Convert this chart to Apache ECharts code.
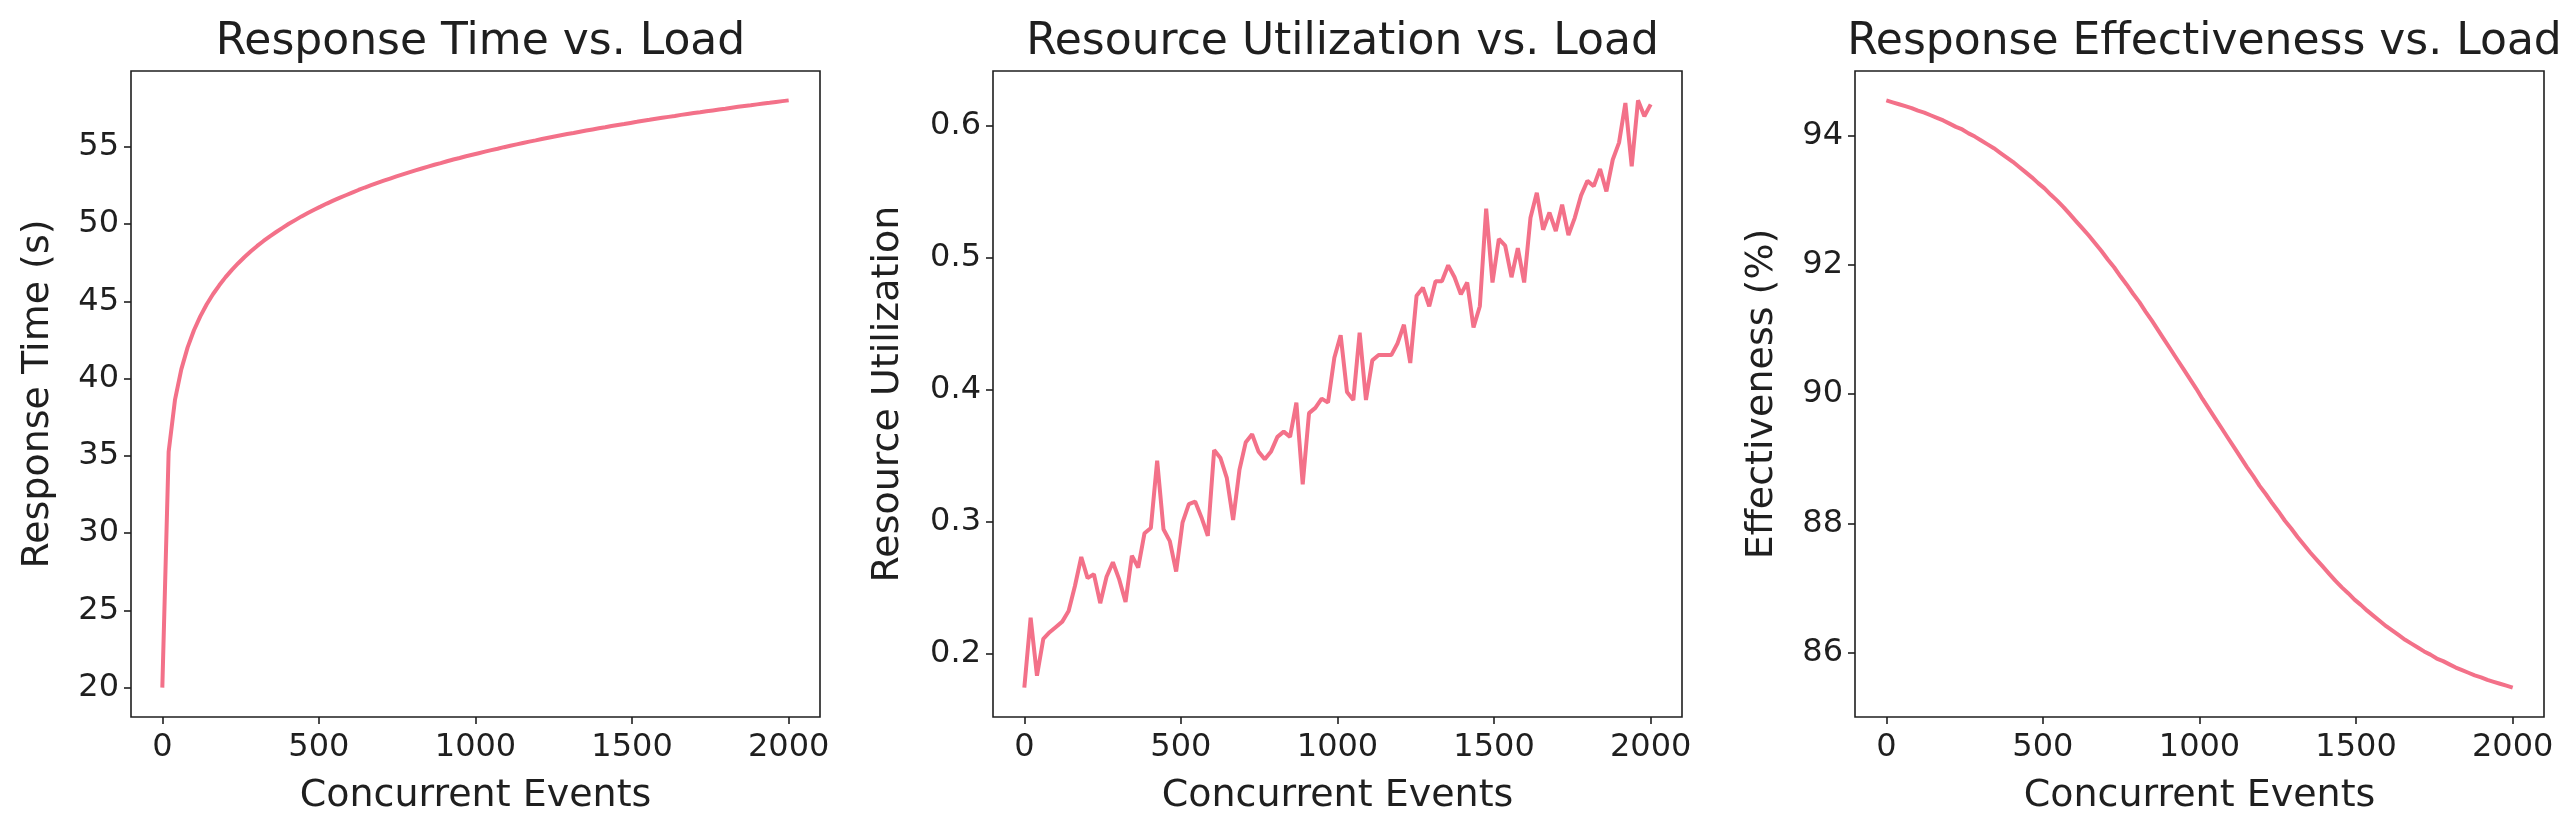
<!DOCTYPE html>
<html>
<head>
<meta charset="utf-8">
<script src="https://cdn.jsdelivr.net/npm/echarts@6/dist/echarts.min.js"></script>
<style>
html,body{margin:0;padding:0;background:#fff;}
#c{width:2574px;height:838px;}
</style>
</head>
<body>
<div id="c"></div>
<script>
// Concurrent events (x for all three panels)
const concurrentEvents = [
  0,20.2,40.4,60.6,80.8,101.0,121.2,141.4,161.6,181.8,
  202.0,222.2,242.4,262.6,282.8,303.0,323.2,343.4,363.6,383.8,
  404.0,424.2,444.4,464.6,484.8,505.1,525.3,545.5,565.7,585.9,
  606.1,626.3,646.5,666.7,686.9,707.1,727.3,747.5,767.7,787.9,
  808.1,828.3,848.5,868.7,888.9,909.1,929.3,949.5,969.7,989.9,
  1010.1,1030.3,1050.5,1070.7,1090.9,1111.1,1131.3,1151.5,1171.7,1191.9,
  1212.1,1232.3,1252.5,1272.7,1292.9,1313.1,1333.3,1353.5,1373.7,1393.9,
  1414.1,1434.3,1454.5,1474.7,1494.9,1515.2,1535.4,1555.6,1575.8,1596.0,
  1616.2,1636.4,1656.6,1676.8,1697.0,1717.2,1737.4,1757.6,1777.8,1798.0,
  1818.2,1838.4,1858.6,1878.8,1899.0,1919.2,1939.4,1959.6,1979.8,2000.0
];
// Response time (s)
const responseTime = [
  20.00,35.27,38.62,40.60,42.02,43.13,44.03,44.80,45.46,46.04,
  46.57,47.04,47.47,47.87,48.24,48.59,48.91,49.21,49.49,49.76,
  50.02,50.26,50.50,50.72,50.93,51.13,51.33,51.52,51.70,51.87,
  52.04,52.21,52.37,52.52,52.67,52.81,52.95,53.09,53.22,53.35,
  53.48,53.60,53.72,53.84,53.95,54.07,54.18,54.28,54.39,54.49,
  54.59,54.69,54.79,54.88,54.98,55.07,55.16,55.25,55.34,55.42,
  55.51,55.59,55.67,55.75,55.83,55.90,55.98,56.06,56.13,56.20,
  56.27,56.35,56.42,56.48,56.55,56.62,56.69,56.75,56.82,56.88,
  56.94,57.00,57.07,57.13,57.19,57.24,57.30,57.36,57.42,57.47,
  57.53,57.59,57.64,57.69,57.75,57.80,57.85,57.91,57.96,58.01
];
// Resource utilization
const resourceUtilization = [
  0.174,0.227,0.183,0.211,0.216,0.220,0.224,0.232,0.251,0.273,
  0.257,0.260,0.238,0.258,0.269,0.256,0.239,0.274,0.265,0.291,
  0.295,0.346,0.294,0.285,0.262,0.299,0.313,0.315,0.303,0.289,
  0.354,0.348,0.333,0.301,0.339,0.360,0.366,0.353,0.347,0.353,
  0.364,0.368,0.364,0.390,0.328,0.382,0.386,0.393,0.390,0.424,
  0.441,0.398,0.392,0.443,0.392,0.422,0.426,0.426,0.426,0.435,
  0.449,0.420,0.471,0.477,0.463,0.482,0.482,0.494,0.485,0.472,
  0.481,0.447,0.463,0.537,0.481,0.514,0.509,0.485,0.507,0.481,
  0.530,0.549,0.521,0.534,0.520,0.540,0.517,0.530,0.547,0.558,
  0.554,0.567,0.550,0.574,0.587,0.617,0.569,0.619,0.607,0.616
];
// Effectiveness (%)
const effectiveness = [
  94.54,94.51,94.48,94.45,94.42,94.38,94.35,94.31,94.27,94.23,
  94.18,94.13,94.09,94.03,93.98,93.92,93.86,93.80,93.73,93.66,
  93.59,93.51,93.43,93.35,93.26,93.18,93.08,92.99,92.89,92.78,
  92.67,92.56,92.45,92.33,92.21,92.08,91.96,91.82,91.69,91.55,
  91.42,91.27,91.13,90.98,90.83,90.68,90.53,90.38,90.23,90.08,
  89.92,89.77,89.62,89.47,89.32,89.17,89.02,88.87,88.73,88.58,
  88.45,88.31,88.18,88.04,87.92,87.79,87.67,87.55,87.44,87.33,
  87.22,87.11,87.01,86.92,86.82,86.74,86.65,86.57,86.49,86.41,
  86.34,86.27,86.20,86.14,86.08,86.02,85.97,85.91,85.87,85.82,
  85.77,85.73,85.69,85.65,85.62,85.58,85.55,85.52,85.49,85.46
];
// Tick labels
const xTicks = [0, 500, 1000, 1500, 2000];
const rtTicks = [20, 25, 30, 35, 40, 45, 50, 55];
const ruTicks = [0.2, 0.3, 0.4, 0.5, 0.6];
const efTicks = [86, 88, 90, 92, 94];
const titles = ['Response Time vs. Load', 'Resource Utilization vs. Load', 'Response Effectiveness vs. Load'];
const yNames = ['Response Time (s)', 'Resource Utilization', 'Effectiveness (%)'];
const xName = 'Concurrent Events';

const FONT = 'DejaVu Sans';
const TXT = '#1f1f1f';
const LINE = '#f37189';

const grids = [
  {left: 131, top: 71, width: 689, height: 646},
  {left: 993, top: 71, width: 689, height: 646},
  {left: 1855, top: 71, width: 689, height: 646}
];
const yNameGaps = [74, 86, 74];

function pad(arr) {
  const mn = Math.min(...arr), mx = Math.max(...arr);
  const p = (mx - mn) * 0.05;
  return [mn - p, mx + p];
}
const ySeries = [responseTime, resourceUtilization, effectiveness];
const yTicks = [rtTicks, ruTicks, efTicks];
const yFmt = [v => String(Math.round(v)), v => v.toFixed(1), v => String(Math.round(v))];
const xr = pad(concurrentEvents);

const option = {
  backgroundColor: '#fff',
  animation: false,
  title: titles.map((t, i) => ({
    text: t,
    left: grids[i].left + grids[i].width / 2,
    textAlign: 'center',
    top: 16,
    textStyle: {fontFamily: FONT, fontSize: 44, fontWeight: 'normal', color: TXT}
  })),
  grid: grids.map(g => Object.assign({show: true, borderColor: TXT, borderWidth: 1.6, backgroundColor: 'transparent', containLabel: false}, g)),
  xAxis: grids.map((g, i) => ({
    type: 'value', gridIndex: i, min: xr[0], max: xr[1],
    name: xName, nameLocation: 'middle', nameGap: 60,
    nameTextStyle: {fontFamily: FONT, fontSize: 38, color: TXT},
    axisLine: {show: false, onZero: false},
    axisTick: {show: true, length: 7, inside: false, lineStyle: {color: TXT, width: 1.6}, customValues: xTicks},
    axisLabel: {fontFamily: FONT, fontSize: 32, color: TXT, margin: 15, customValues: xTicks, formatter: v => String(Math.round(v))},
    splitLine: {show: false}
  })),
  yAxis: grids.map((g, i) => {
    const r = pad(ySeries[i]);
    return {
      type: 'value', gridIndex: i, min: r[0], max: r[1],
      name: yNames[i], nameLocation: 'middle', nameGap: yNameGaps[i],
      nameTextStyle: {fontFamily: FONT, fontSize: 38, color: TXT},
      axisLine: {show: false, onZero: false},
      axisTick: {show: true, length: 7, inside: false, lineStyle: {color: TXT, width: 1.6}, customValues: yTicks[i]},
      axisLabel: {fontFamily: FONT, fontSize: 32, color: TXT, margin: 12, customValues: yTicks[i], formatter: yFmt[i]},
      splitLine: {show: false}
    };
  }),
  series: ySeries.map((ys, i) => ({
    type: 'line', xAxisIndex: i, yAxisIndex: i,
    data: concurrentEvents.map((x, k) => [x, ys[k]]),
    showSymbol: false, symbol: 'none',
    lineStyle: {color: LINE, width: 4},
    clip: false
  }))
};

const chart = echarts.init(document.getElementById('c'), null, {renderer: 'canvas'});
chart.setOption(option);
</script>
</body>
</html>
